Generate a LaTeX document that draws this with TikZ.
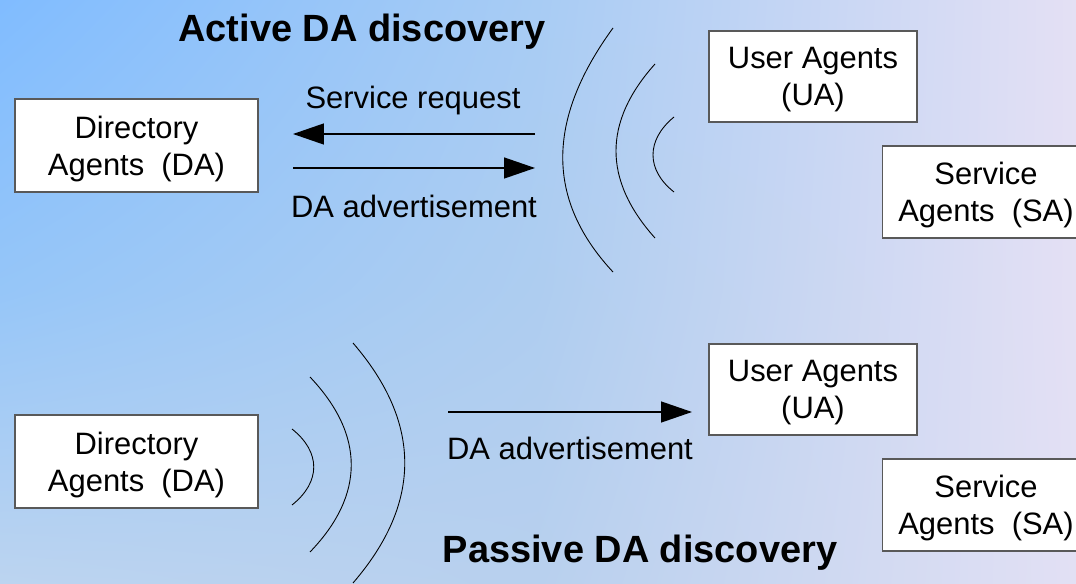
\documentclass[tikz,border=0pt]{standalone}
\usepackage{fontspec}
\setmainfont{Liberation Sans}
\usetikzlibrary{arrows.meta, shadings}

\definecolor{bgtl}{RGB}{128,188,255}
\definecolor{bgtm}{RGB}{168,204,244}
\definecolor{bgtr}{RGB}{228,224,244}
\definecolor{bglm}{RGB}{150,198,248}
\definecolor{bgc}{RGB}{174,205,240}
\definecolor{bgrm}{RGB}{228,224,244}
\definecolor{bgbl}{RGB}{188,212,240}
\definecolor{bgbm}{RGB}{184,208,238}
\definecolor{bgbr}{RGB}{226,224,244}

\tikzset{
  agent/.style={draw=black!65, line width=0.6pt, fill=white, align=center,
    text depth=0pt, font=\fontsize{17.6}{21}\selectfont},
  msglabel/.style={font=\fontsize{17.6}{21}\selectfont},
  heading/.style={font=\fontsize{21.6}{26}\selectfont\bfseries},
  msg/.style={line width=0.75pt, -{Triangle[length=0.62cm,width=0.42cm]}},
  wave/.style={line width=0.5pt}
}

\begin{document}
\begin{tikzpicture}[x=0.02cm, y=-0.02cm]
				      \useasboundingbox (0,0) rectangle (1076,584);
				      \shade[upper left=bgtl, upper right=bgtm, lower left=bglm, lower right=bgc] (0,0) rectangle (538.5,292.5);
				      \shade[upper left=bgtm, upper right=bgtr, lower left=bgc, lower right=bgrm] (538,0) rectangle (1076,292.5);
				      \shade[upper left=bglm, upper right=bgc, lower left=bgbl, lower right=bgbm] (0,292) rectangle (538.5,584);
				      \shade[upper left=bgc, upper right=bgrm, lower left=bgbm, lower right=bgbr] (538,292) rectangle (1076,584);

				      \node[heading] (active) at (362,32) {Active DA discovery};
				      \node[agent, minimum width=4.86cm, minimum height=1.86cm] (da1) at (136.5,145.5) {Directory\\Agents\ \ (DA)};
				      \node[agent, minimum width=4.16cm, minimum height=1.82cm] (ua1) at (813,76.5) {User Agents\\(UA)};
				      \node[agent, minimum width=4.16cm, minimum height=1.84cm] (sa1) at (986,192) {Service\\Agents\ \ (SA)};

				      \coordinate (req1) at (535,134);
				      \coordinate (req2) at (293,134);
				      \coordinate (adv1) at (293,168);
				      \coordinate (adv2) at (535,168);
				      \draw[msg] (req1) -- (req2);
				      \draw[msg] (adv1) -- (adv2);
				      \node[msglabel] (reqlabel) at (413,101) {Service request};
				      \node[msglabel] (advlabel) at (414,206) {DA advertisement};

				      \draw[wave] (613,28) .. controls (546,120) and (546,200) .. (613,272);
				      \draw[wave] (655,64) .. controls (603,122) and (603,180) .. (655,238);
				      \draw[wave] (674,117) .. controls (646,140) and (646,170) .. (674,192);

				      \node[agent, minimum width=4.86cm, minimum height=1.86cm] (da2) at (136.5,461.5) {Directory\\Agents\ \ (DA)};
				      \node[agent, minimum width=4.16cm, minimum height=1.82cm] (ua2) at (813,389.5) {User Agents\\(UA)};
				      \node[agent, minimum width=4.16cm, minimum height=1.84cm] (sa2) at (986,505) {Service\\Agents\ \ (SA)};

				      \coordinate (adv3) at (448,412);
				      \coordinate (adv4) at (692,412);
				      \draw[msg] (adv3) -- (adv4);
				      \node[msglabel] (advlabel2) at (570,448) {DA advertisement};

				      \draw[wave] (292,429) .. controls (321,452) and (321,482) .. (292,505);
				      \draw[wave] (310,377) .. controls (365,435) and (365,495) .. (310,552);
				      \draw[wave] (353,343) .. controls (422,423) and (422,503) .. (353,583);

				      \node[heading] (passive) at (640,553) {Passive DA discovery};
\end{tikzpicture}
\end{document}
